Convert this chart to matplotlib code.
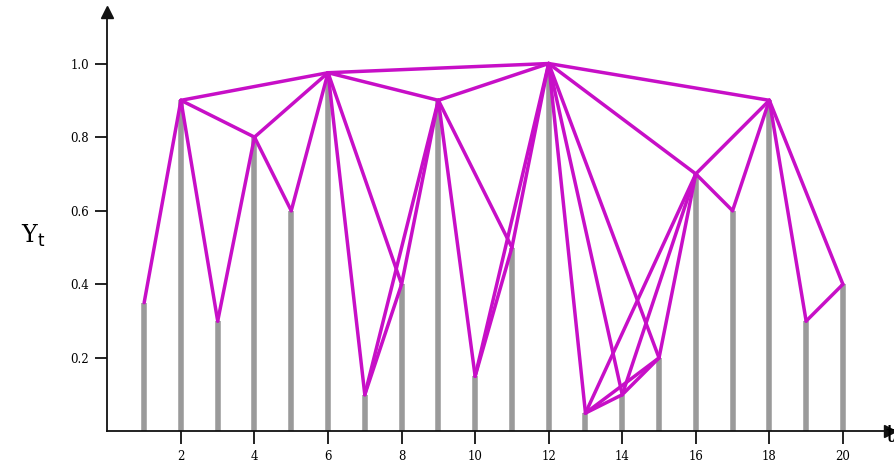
import numpy as np
import matplotlib
matplotlib.use("Agg")
import matplotlib.pyplot as plt

# time series values Y_t, t = 1..20
t = np.arange(1, 21)
y = [0.35, 0.90, 0.30, 0.80, 0.60, 0.975, 0.10, 0.40, 0.90, 0.15,
     0.50, 1.00, 0.05, 0.10, 0.20, 0.70, 0.60, 0.90, 0.30, 0.40]
xticks = [2, 4, 6, 8, 10, 12, 14, 16, 18, 20]
yticks = [0.2, 0.4, 0.6, 0.8, 1.0]

bar_color = "#9a9a9a"
edge_color = "#c70fc7"


def visible(a, b):
    # natural visibility criterion between points a < b
    for c in range(a + 1, b):
        line = y[b] + (y[a] - y[b]) * (t[b] - t[c]) / (t[b] - t[a])
        if y[c] >= line:
            return False
    return True


edges = [(a, b) for a in range(len(t)) for b in range(a + 1, len(t)) if visible(a, b)]

fig = plt.figure(figsize=(8.94, 4.71), dpi=100)
ax = fig.add_axes([0.1201, 0.0839, 0.8754, 0.8906])

ax.vlines(t, 0, y, color=bar_color, linewidth=4.0, zorder=1)
for a, b in edges:
    ax.plot([t[a], t[b]], [y[a], y[b]], color=edge_color, linewidth=2.5,
            solid_capstyle="round", zorder=2)

ax.set_xlim(0, 21.28)
ax.set_ylim(0, 1.14)

for s in ["top", "right"]:
    ax.spines[s].set_visible(False)
for s in ["left", "bottom"]:
    ax.spines[s].set_linewidth(1.3)
    ax.spines[s].set_color("#111111")

# arrow heads on axes
ax.plot(1, 0, ">", color="#111111", markersize=9, transform=ax.get_yaxis_transform(), clip_on=False)
ax.plot(0, 1, "^", color="#111111", markersize=9, transform=ax.get_xaxis_transform(), clip_on=False)

ax.set_xticks(xticks)
ax.set_yticks(yticks)
ax.set_xticklabels([str(v) for v in xticks], family="DejaVu Serif", fontsize=8.5)
ax.set_yticklabels(["%.1f" % v for v in yticks], family="DejaVu Serif", fontsize=8.5)
ax.tick_params(axis="both", direction="out", length=9, width=1.3, color="#111111", pad=4)

fig.text(0.037, 0.5, "Y$_\\mathrm{t}$", fontsize=17, family="DejaVu Serif",
         ha="center", va="center")
fig.text(0.99, 0.075, "t", fontsize=17, family="DejaVu Serif", ha="left", va="center")

fig.savefig("out.png", dpi=100)
